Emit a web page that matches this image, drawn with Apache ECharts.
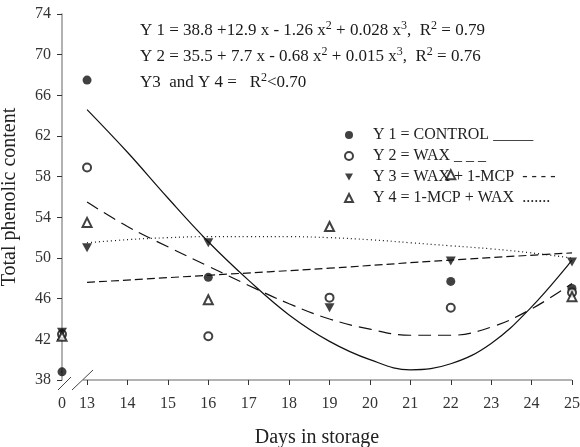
<!DOCTYPE html>
<html>
<head>
<meta charset="utf-8">
<script src="https://cdn.jsdelivr.net/npm/echarts@6/dist/echarts.min.js"></script>
<style>
  html, body { margin: 0; padding: 0; background: #fff; }
  #chart { width: 580px; height: 447px; }
</style>
</head>
<body>
<div id="chart"></div>
<script>
// day 0 sits just left of day 13 on the broken axis
var DAY0_POS = 12.38;

var tickDays = [0, 13, 14, 15, 16, 17, 18, 19, 20, 21, 22, 23, 24, 25];

// observed values
var obsDays  = [0, 13, 16, 19, 22, 25];
var control  = [38.8, 67.5, 48.1, null, 47.7, 47.0];
var wax      = [42.5, 58.9, 42.3, 46.1, 45.1, 46.6];
var waxMcp   = [42.7, 51.0, 51.5, 45.1, 49.7, 49.6];
var mcpWax   = [42.3, 53.5, 45.9, 53.1, 58.2, 46.2];

// fitted curves
var fitDays = [13, 14, 15, 16, 17, 18, 19, 20, 21, 22, 23, 24, 25];
var fitY1   = [64.6, 60.4, 55.9, 51.6, 47.8, 44.4, 41.8, 40.0, 39.0, 39.6, 41.6, 45.2, 49.8];
var fitY2   = [55.5, 53.1, 51.1, 49.2, 47.3, 45.5, 44.0, 43.0, 42.4, 42.4, 43.2, 45.0, 47.5];
var fitY3Days = [13, 16, 19, 22, 25];
var fitY3   = [47.6, 48.3, 49.0, 49.8, 50.5];
var fitY4   = [51.5, 51.8, 52.0, 52.1, 52.1, 52.1, 52.0, 51.8, 51.5, 51.2, 50.9, 50.5, 50.0];
// short piece of the control curve leaving day 0
var y1StartDays = [0, 0.2];
var y1Start     = [38.8, 44.9];

var equations = [
  'Y 1 = 38.8 +12.9 x - 1.26 x{sup|2} + 0.028 x{sup|3},  R{sup|2} = 0.79',
  'Y 2 = 35.5 + 7.7 x - 0.68 x{sup|2} + 0.015 x{sup|3},  R{sup|2} = 0.76',
  'Y3  and Y 4 =   R{sup|2}<0.70'
];

var FONT = 'Liberation Serif';
var DOWN_TRI = 'path://M0,0L10,0L5,9Z';

function pos(d) { return d === 0 ? DAY0_POS : d; }
function pairs(xs, ys) {
  return xs.map(function (x, i) { return [pos(x), ys[i]]; }).filter(function (p) { return p[1] != null; });
}

var chart = echarts.init(document.getElementById('chart'));

var lineBase = { type: 'line', showSymbol: false, symbol: 'none', smooth: 0.4, silent: true, z: 2 };
function fitLine(name, data, type, width) {
  return Object.assign({}, lineBase, {
    name: name, data: data,
    lineStyle: { color: '#111', width: width || 1.2, type: type }
  });
}

var legendNames = ['Y 1 = CONTROL _____', 'Y 2 = WAX _ _ _', 'Y 3 = WAX + 1-MCP  - - - -', 'Y 4 = 1-MCP + WAX  .......'];

chart.setOption({
  animation: false,
  title: {
    text: equations.join('\n'), left: 140, top: 18, padding: 0,
    textStyle: {
      fontFamily: FONT, fontSize: 17, fontWeight: 'normal', color: '#1a1a1a', lineHeight: 26,
      rich: { sup: { fontFamily: FONT, fontSize: 12, fontWeight: 'normal', color: '#1a1a1a', lineHeight: 26, padding: [0, 0, 10, 0] } }
    }
  },
  grid: { left: 62, right: 8, top: 14, bottom: 67, outerBoundsMode: 'none', containLabel: false },
  xAxis: {
    type: 'value', min: DAY0_POS, max: 25,
    name: 'Days in storage', nameLocation: 'middle', nameGap: 48,
    nameTextStyle: { fontFamily: FONT, fontSize: 20, color: '#222' },
    axisLine: { show: false },
    axisTick: { show: true, length: 5, customValues: tickDays.slice(1), lineStyle: { color: '#333' } },
    axisLabel: {
      customValues: tickDays.map(pos), margin: 16,
      fontFamily: FONT, fontSize: 16, color: '#333',
      formatter: function (v) { return v < 13 ? '0' : String(Math.round(v)); }
    },
    splitLine: { show: false }
  },
  yAxis: {
    type: 'value', min: 38, max: 74, interval: 4,
    name: 'Total phenolic content', nameLocation: 'middle', nameGap: 42, nameRotate: 90,
    nameTextStyle: { fontFamily: FONT, fontSize: 20, color: '#222' },
    axisLine: { show: true, lineStyle: { color: '#999', width: 1.5 } },
    axisTick: { show: true, length: 5, lineStyle: { color: '#333' } },
    axisLabel: { margin: 11, fontFamily: FONT, fontSize: 16, color: '#333' },
    splitLine: { show: false }
  },
  legend: {
    orient: 'vertical', left: 339, top: 122, itemWidth: 8, itemHeight: 8, itemGap: 5,
    textStyle: { fontFamily: FONT, fontSize: 16, color: '#222', padding: [0, 0, 0, 15] },
    data: legendNames
  },
  series: [
    fitLine('fit1', pairs(fitDays, fitY1), 'solid'),
    fitLine('fit1start', pairs(y1StartDays, y1Start), 'solid'),
    fitLine('fit2', pairs(fitDays, fitY2), [13, 7]),
    fitLine('fit3', pairs(fitY3Days, fitY3), [8, 4]),
    fitLine('fit4', pairs(fitDays, fitY4), [1, 3]),
    {
      name: legendNames[0], type: 'scatter', symbol: 'circle', symbolSize: 9,
      itemStyle: { color: '#111' }, data: pairs(obsDays, control), z: 5
    },
    {
      name: legendNames[1], type: 'scatter', symbol: 'emptyCircle', symbolSize: 8,
      itemStyle: { color: '#111', borderWidth: 1.3 }, data: pairs(obsDays, wax), z: 5
    },
    {
      name: legendNames[2], type: 'scatter', symbol: DOWN_TRI, symbolSize: [10, 9],
      itemStyle: { color: '#111' }, data: pairs(obsDays, waxMcp), z: 5
    },
    {
      name: legendNames[3], type: 'scatter', symbol: 'emptyTriangle', symbolSize: 9,
      itemStyle: { color: '#111', borderWidth: 1.3 }, data: pairs(obsDays, mcpWax), z: 5
    }
  ]
});

// x axis line starts after the break, plus the two break marks
var o = chart.convertToPixel({ xAxisIndex: 0, yAxisIndex: 0 }, [DAY0_POS, 38]);
var s = chart.convertToPixel({ xAxisIndex: 0, yAxisIndex: 0 }, [13, 38]);
var e = chart.convertToPixel({ xAxisIndex: 0, yAxisIndex: 0 }, [25, 38]);
var axisStroke = { stroke: '#999', lineWidth: 1.5 };
var markStroke = { stroke: '#444', lineWidth: 1 };
chart.setOption({
  graphic: [
    { type: 'line', shape: { x1: s[0] - 4, y1: s[1], x2: e[0], y2: e[1] }, style: axisStroke, silent: true },
    { type: 'line', shape: { x1: o[0] - 4, y1: o[1] + 10, x2: o[0] + 9, y2: o[1] - 3 }, style: markStroke, silent: true },
    { type: 'line', shape: { x1: o[0] + 10, y1: o[1] + 10, x2: o[0] + 31, y2: o[1] - 10 }, style: markStroke, silent: true }
  ]
});
</script>
</body>
</html>
